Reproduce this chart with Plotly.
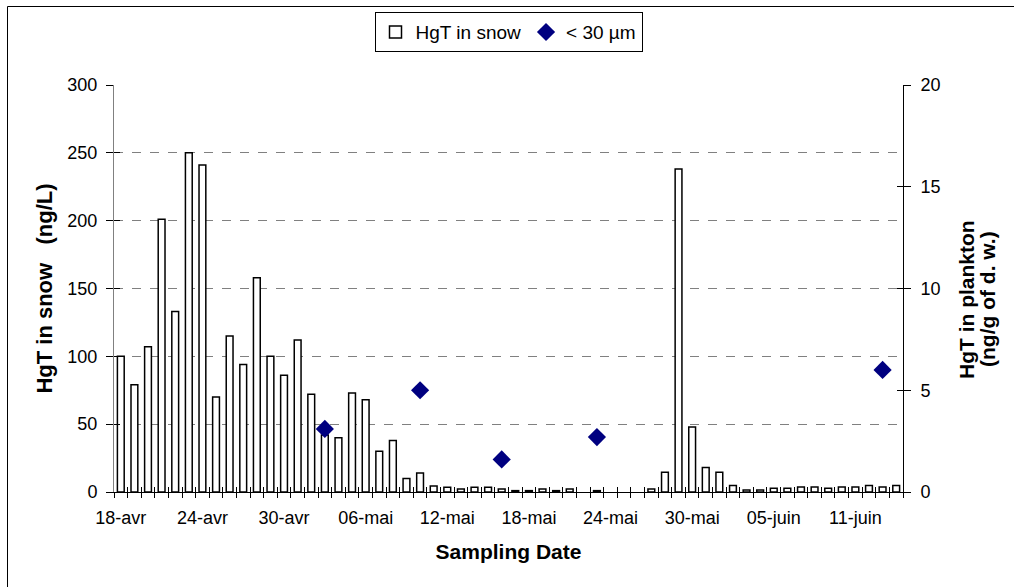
import plotly.graph_objects as go

# ---- data ----
dates = ["18-avr", "19-avr", "20-avr", "21-avr", "22-avr", "23-avr", "24-avr", "25-avr",
         "26-avr", "27-avr", "28-avr", "29-avr", "30-avr",
         "01-mai", "02-mai", "03-mai", "04-mai", "05-mai", "06-mai", "07-mai", "08-mai",
         "09-mai", "10-mai", "11-mai", "12-mai", "13-mai", "14-mai", "15-mai", "16-mai",
         "17-mai", "18-mai", "19-mai", "20-mai", "21-mai", "22-mai", "23-mai", "24-mai",
         "25-mai", "26-mai", "27-mai", "28-mai", "29-mai", "30-mai", "31-mai",
         "01-juin", "02-juin", "03-juin", "04-juin", "05-juin", "06-juin", "07-juin",
         "08-juin", "09-juin", "10-juin", "11-juin", "12-juin", "13-juin", "14-juin"]

snow = [100, 79, 107, 201, 133, 250, 241, 70, 115, 94,
        158, 100, 86, 112, 72, 42, 40, 73, 68, 30,
        38, 10, 14, 4.5, 3.5, 2.2, 3.5, 3.5, 2.2, 1,
        1, 2.2, 1, 2.2, None, 1, None, None, None, 2.2,
        14.5, 238, 48, 18, 14.5, 4.7, 1.5, 1.5, 2.7, 2.7,
        3.7, 3.7, 2.7, 3.7, 3.7, 4.7, 3.7, 4.7]

plankton_dates = ["03-mai", "10-mai", "16-mai", "23-mai", "13-juin"]
plankton = [3.1, 5.0, 1.6, 2.7, 6.0]

tick_labels = ["18-avr", "24-avr", "30-avr", "06-mai", "12-mai",
               "18-mai", "24-mai", "30-mai", "05-juin", "11-juin"]

# ---- derived positions on the category axis ----
idx = list(range(len(dates)))
pk_idx = [dates.index(d) for d in plankton_dates]
tick_idx = [dates.index(d) for d in tick_labels]
xr = [-0.5, len(dates) - 0.5]

FONT = "Liberation Sans, Arial, sans-serif"

fig = go.Figure()
fig.add_bar(
    x=idx, y=snow, width=0.5, name="HgT in snow",
    customdata=dates, hovertemplate="%{customdata}: %{y}<extra></extra>",
    marker=dict(color="white", line=dict(color="black", width=1.5)),
    xaxis="x", yaxis="y",
)
fig.add_scatter(
    x=pk_idx, y=plankton, mode="markers", name="< 30 µm",
    customdata=plankton_dates, hovertemplate="%{customdata}: %{y}<extra></extra>",
    marker=dict(symbol="diamond", color="#000080", size=14),
    xaxis="x", yaxis="y2",
)
# empty helper traces so that the tick-only overlay axes get drawn
fig.add_scatter(x=[], y=[], xaxis="x2", yaxis="y3", showlegend=False, hoverinfo="skip")
fig.add_scatter(x=[], y=[], xaxis="x3", yaxis="y4", showlegend=False, hoverinfo="skip")

common_x = dict(range=xr, showgrid=False, zeroline=False)
common_y = dict(showgrid=False, zeroline=False)

fig.update_layout(
    width=1014, height=587,
    margin=dict(l=114, r=111, t=85, b=95),
    paper_bgcolor="white", plot_bgcolor="white",
    font=dict(family=FONT, size=18, color="black"),
    showlegend=True,
    legend=dict(orientation="h", x=0.5, xanchor="center", y=1.179, yanchor="top",
                bordercolor="black", borderwidth=1, bgcolor="white",
                font=dict(size=19), itemwidth=30, traceorder="normal"),
    xaxis=dict(**common_x, tickmode="array", tickvals=tick_idx, ticktext=tick_labels,
               ticks="", showline=True, linecolor="black", linewidth=1,
               ticklabelstandoff=9,
               title=dict(text="<b>Sampling Date</b>", font=dict(size=21), standoff=17)),
    xaxis2=dict(**common_x, overlaying="x", anchor="y", side="bottom",
                tick0=-0.5, dtick=1, ticks="outside", ticklen=5, tickcolor="black",
                showticklabels=False, showline=False),
    xaxis3=dict(**common_x, overlaying="x", anchor="y", side="bottom",
                tick0=-0.5, dtick=1, ticks="inside", ticklen=5, tickcolor="black",
                showticklabels=False, showline=False),
    yaxis=dict(range=[0, 300], dtick=50, ticks="outside", ticklen=7, tickcolor="black",
               showline=True, linecolor="#808080", linewidth=1,
               showgrid=True, gridcolor="#808080", gridwidth=1, griddash="dash",
               zeroline=False, ticklabelstandoff=5,
               title=dict(text="<b>HgT in snow\u00a0\u00a0 (ng/L)</b>", font=dict(size=22), standoff=8)),
    yaxis2=dict(**common_y, overlaying="y", side="right", anchor="x", range=[0, 20], dtick=5,
                ticks="outside", ticklen=7, tickcolor="black",
                showline=True, linecolor="black", linewidth=1, ticklabelstandoff=6),
    yaxis3=dict(**common_y, overlaying="y", side="left", anchor="x", range=[0, 300], dtick=50,
                ticks="inside", ticklen=6, tickcolor="black", showticklabels=False, showline=False),
    yaxis4=dict(**common_y, overlaying="y", side="right", anchor="x", range=[0, 20], dtick=5,
                ticks="inside", ticklen=6, tickcolor="black", showticklabels=False, showline=False),
    annotations=[
        dict(text="<b>HgT in plankton</b>", xref="paper", yref="paper",
             x=(966 - 114) / 789, y=(492 - 299) / 407, textangle=-90, showarrow=False,
             font=dict(size=21), xanchor="center", yanchor="middle"),
        dict(text="<b>(ng/g of d. w.)</b>", xref="paper", yref="paper",
             x=(987 - 114) / 789, y=(492 - 299) / 407, textangle=-90, showarrow=False,
             font=dict(size=21), xanchor="center", yanchor="middle"),
    ],
    shapes=[
        dict(type="rect", xref="paper", yref="paper",
             x0=(7.5 - 114) / 789, x1=1.3, y0=-0.4, y1=(492 - 6.5) / 407,
             line=dict(color="black", width=1), fillcolor="rgba(0,0,0,0)", layer="below"),
    ],
)

fig.write_html("out.html", config={"displayModeBar": False},
               post_script="document.body.style.margin='0';")
